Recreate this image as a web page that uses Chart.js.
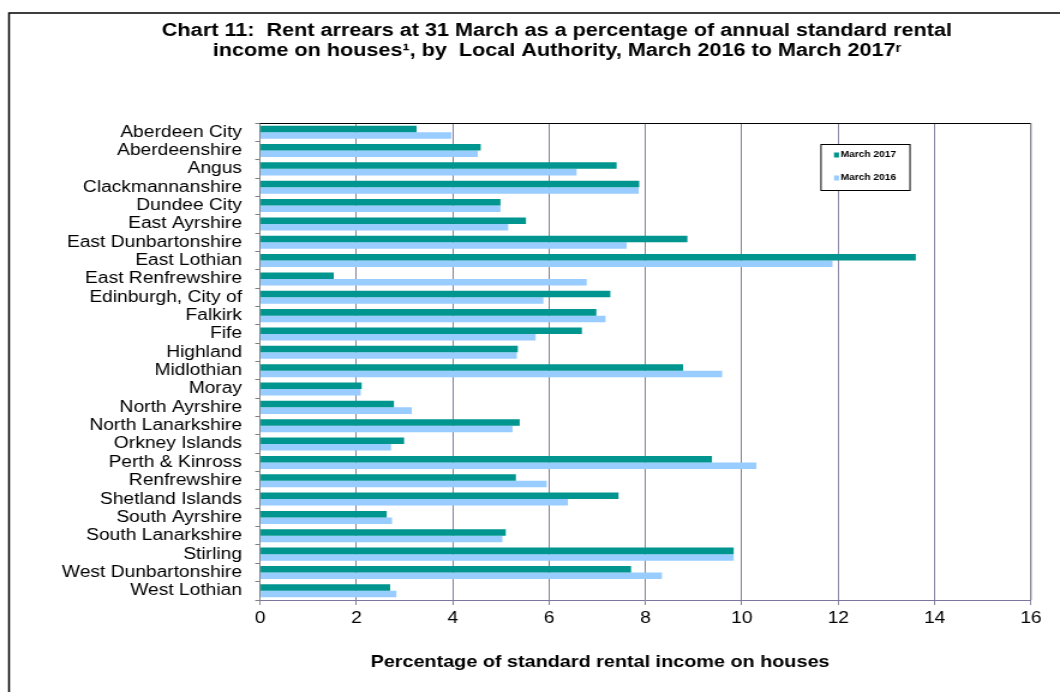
<!DOCTYPE html>
<html>
<head>
<meta charset="utf-8">
<script src="https://cdn.jsdelivr.net/npm/chart.js@4.4.1/dist/chart.umd.min.js"></script>
<style>
  html, body { margin: 0; padding: 0; background: #ffffff; overflow: hidden; }
  /* the chart is laid out on a narrower canvas and widened to 1060px */
  #wrap { width: 883px; height: 692px; transform-origin: 0 0; }
</style>
</head>
<body>
<div id="wrap"><canvas id="chart" width="883" height="692"></canvas></div>
<script>
// Local authorities, in display order
const authorities = [
  'Aberdeen City', 'Aberdeenshire', 'Angus', 'Clackmannanshire', 'Dundee City',
  'East Ayrshire', 'East Dunbartonshire', 'East Lothian', 'East Renfrewshire',
  'Edinburgh, City of', 'Falkirk', 'Fife', 'Highland', 'Midlothian', 'Moray',
  'North Ayrshire', 'North Lanarkshire', 'Orkney Islands', 'Perth & Kinross',
  'Renfrewshire', 'Shetland Islands', 'South Ayrshire', 'South Lanarkshire',
  'Stirling', 'West Dunbartonshire', 'West Lothian'
];

// Rent arrears as % of annual standard rental income on houses
const march2017 = [
  3.25, 4.58, 7.40, 7.87, 4.99, 5.52, 8.87, 13.61, 1.53, 7.27, 6.98, 6.68, 5.35,
  8.78, 2.11, 2.78, 5.39, 2.99, 9.38, 5.31, 7.44, 2.63, 5.10, 9.83, 7.70, 2.70
];
const march2016 = [
  3.97, 4.52, 6.57, 7.86, 4.99, 5.15, 7.61, 11.88, 6.78, 5.88, 7.17, 5.72, 5.33,
  9.59, 2.09, 3.15, 5.24, 2.72, 10.30, 5.95, 6.39, 2.74, 5.03, 9.83, 8.34, 2.83
];

const seriesNames = ['March 2017', 'March 2016'];
const xTicks = [0, 2, 4, 6, 8, 10, 12, 14, 16];

const titleLines = [
  'Chart 11:  Rent arrears at 31 March as a percentage of annual standard rental',
  'income on houses\u00B9, by  Local Authority, March 2016 to March 2017\u02B3'
];
const xAxisTitle = 'Percentage of standard rental income on houses';

const COLOR_2017 = '#00968f';
const COLOR_2016 = '#99ccff';
const GRID = '#86839f';
const FONT = '"Liberation Sans", Arial, sans-serif';

const CANVAS_W = 883;
const STRETCH = 1060 / CANVAS_W;
document.getElementById('wrap').style.transform = 'scaleX(' + STRETCH + ')';
const sx = v => v / STRETCH;   // page x -> canvas x

// Outer frame, chart title, axis title and plot border
const decorations = {
  id: 'decorations',
  beforeDraw(chart) {
    const ctx = chart.ctx;
    ctx.save();
    ctx.fillStyle = '#ffffff';
    ctx.fillRect(0, 0, chart.width, chart.height);
    ctx.strokeStyle = '#000000';
    ctx.lineWidth = 1.5;
    ctx.strokeRect(sx(9), 13, chart.width + 20, chart.height + 20);
    ctx.fillStyle = '#000000';
    ctx.font = 'bold 18px ' + FONT;
    ctx.textAlign = 'center';
    ctx.textBaseline = 'middle';
    ctx.fillText(titleLines[0], sx(557), 31);
    ctx.fillText(titleLines[1], sx(557), 51);
    ctx.font = 'bold 16.5px ' + FONT;
    ctx.fillText(xAxisTitle, sx(600), 662);
    ctx.restore();
  },
  afterDatasetsDraw(chart) {
    const {ctx, chartArea: a} = chart;
    ctx.save();
    ctx.lineWidth = 1;
    ctx.strokeStyle = '#000000';
    ctx.beginPath();
    ctx.moveTo(a.left, a.top + 0.5);
    ctx.lineTo(a.right, a.top + 0.5);
    ctx.stroke();
    ctx.strokeStyle = '#808080';
    ctx.beginPath();
    ctx.moveTo(a.right, a.top);
    ctx.lineTo(a.right, a.bottom);
    ctx.stroke();
    ctx.restore();
  }
};

// Boxed legend inside the plot area
const boxedLegend = {
  id: 'boxedLegend',
  afterDraw(chart) {
    const ctx = chart.ctx;
    const x = sx(821), y = 144, w = sx(89), h = 46;
    ctx.save();
    ctx.fillStyle = '#ffffff';
    ctx.fillRect(x, y, w, h);
    ctx.strokeStyle = '#000000';
    ctx.lineWidth = 1;
    ctx.strokeRect(x, y + 0.5, w, h);
    ctx.font = 'bold 8.5px ' + FONT;
    ctx.textBaseline = 'middle';
    ctx.textAlign = 'left';
    chart.data.datasets.forEach((ds, i) => {
      const cy = y + 11 + i * 23;
      ctx.fillStyle = ds.backgroundColor;
      ctx.fillRect(x + sx(13), cy - 2.5, sx(5), 5);
      ctx.fillStyle = '#000000';
      ctx.fillText(ds.label, x + sx(19.5), cy);
    });
    ctx.restore();
  }
};

new Chart(document.getElementById('chart'), {
  type: 'bar',
  data: {
    labels: authorities,
    datasets: [
      { label: seriesNames[0], data: march2017, backgroundColor: COLOR_2017,
        categoryPercentage: 0.71, barPercentage: 1.0 },
      { label: seriesNames[1], data: march2016, backgroundColor: COLOR_2016,
        categoryPercentage: 0.71, barPercentage: 1.0 }
    ]
  },
  options: {
    indexAxis: 'y',
    responsive: false,
    animation: false,
    events: [],
    layout: { padding: { top: 123, right: CANVAS_W - sx(1031), bottom: 0, left: 0 } },
    plugins: {
      legend: { display: false },
      title: { display: false },
      tooltip: { enabled: false }
    },
    scales: {
      x: {
        min: 0,
        max: 16,
        afterBuildTicks(scale) { scale.ticks = xTicks.map(v => ({ value: v })); },
        afterFit(scale) { scale.height = 92; },
        ticks: {
          color: '#000000',
          font: { family: FONT, size: 16 },
          padding: 4
        },
        grid: { color: GRID, lineWidth: 1, tickLength: 5, drawTicks: true },
        border: { color: '#7a76a0', width: 1 },
        title: { display: false, text: xAxisTitle }
      },
      y: {
        afterFit(scale) { scale.width = sx(260); },
        ticks: {
          color: '#000000',
          font: { family: FONT, size: 16 },
          padding: 11,
          autoSkip: false
        },
        grid: { drawOnChartArea: false, color: '#808080', tickLength: 4, offset: true },
        border: { color: '#808080', width: 1 }
      }
    }
  },
  plugins: [decorations, boxedLegend]
});
</script>
</body>
</html>
